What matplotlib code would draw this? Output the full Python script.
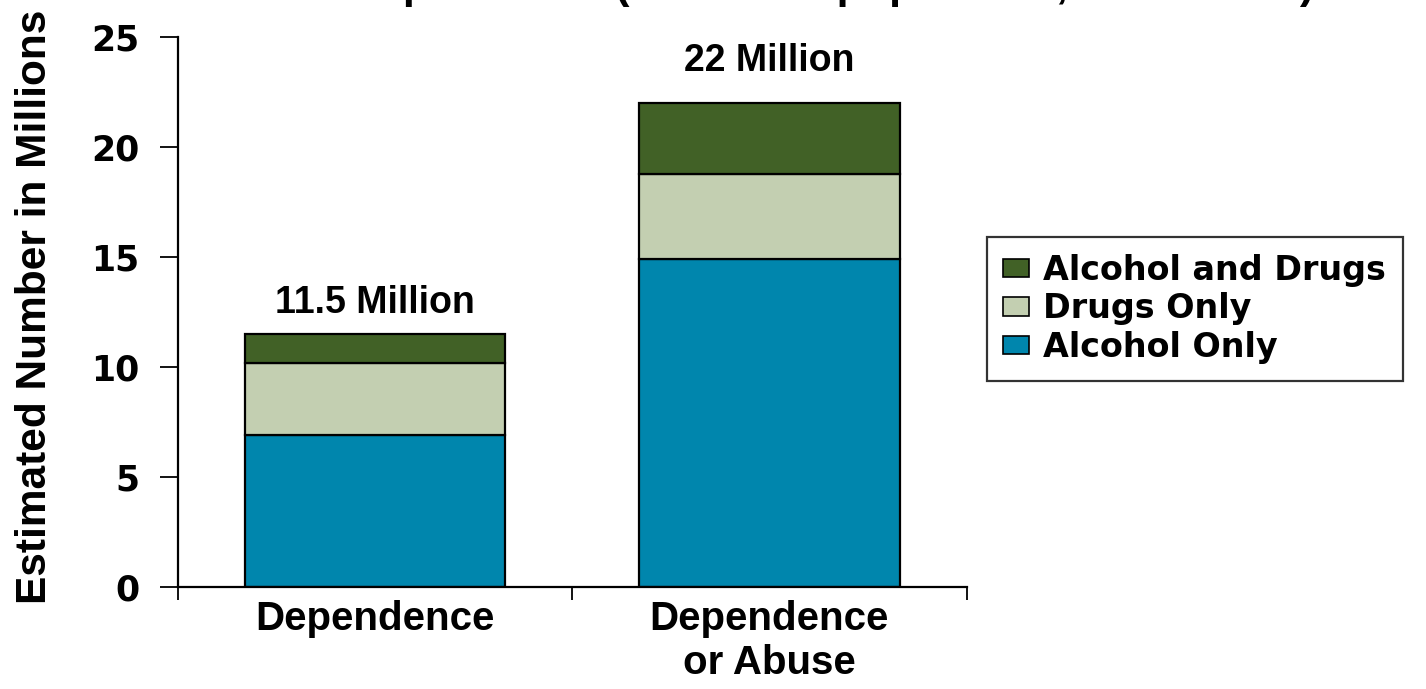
import numpy as np
import matplotlib.pyplot as plt

# estimated numbers (millions), past-year substance dependence / abuse
groups = ['Dependence', 'Dependence\nor Abuse']
alcohol_only = [6.9, 14.9]
drugs_only = [3.3, 3.9]
alcohol_drugs = [1.3, 3.2]
totals = [11.5, 22.0]
total_labels = ['11.5 Million', '22 Million']

c_alc = '#0086ad'
c_drug = '#c3cfb1'
c_both = '#416126'

fig = plt.figure(figsize=(14.26, 6.89), dpi=100)
ax = fig.add_axes([0.1248, 0.148, 0.553, 0.798])

ind = np.arange(len(groups))
width = 0.66
b1 = ax.bar(ind, alcohol_only, width, color=c_alc, edgecolor='black', linewidth=1.6)
b2 = ax.bar(ind, drugs_only, width, bottom=alcohol_only, color=c_drug,
            edgecolor='black', linewidth=1.6)
bottom2 = np.array(alcohol_only) + np.array(drugs_only)
b3 = ax.bar(ind, alcohol_drugs, width, bottom=bottom2, color=c_both,
            edgecolor='black', linewidth=1.6)

# total labels above each stack
for x, t, lab, off in zip(ind, totals, total_labels, [15, 23]):
    ax.annotate(lab, (x, t), xytext=(0, off), textcoords='offset points',
                ha='center', va='baseline', fontsize=27, fontweight='bold',
                family='Liberation Sans')

ax.set_xlim(-0.5, 1.5)
ax.set_ylim(0, 25)
ax.set_yticks([0, 5, 10, 15, 20, 25])
ax.set_yticklabels(['0', '5', '10', '15', '20', '25'], fontsize=25,
                   fontweight='bold', family='DejaVu Sans')
ax.tick_params(axis='y', length=13, width=1.3, pad=15, direction='out')

# category ticks sit between groups, labels under the bars
ax.set_xticks([-0.5, 0.5, 1.5])
ax.set_xticklabels([])
ax.set_xticks(ind, minor=True)
ax.set_xticklabels(groups, minor=True, fontsize=29, fontweight='bold',
                   family='Liberation Sans', linespacing=1.22)
ax.tick_params(axis='x', which='major', length=9, width=1.3, direction='out')
ax.tick_params(axis='x', which='minor', length=0, pad=9)

for s in ['top', 'right']:
    ax.spines[s].set_visible(False)
ax.spines['left'].set_linewidth(1.6)
ax.spines['bottom'].set_linewidth(1.6)

ax.set_ylabel('Estimated Number in Millions', fontsize=30.5, fontweight='bold',
              family='Liberation Sans')
ax.yaxis.set_label_coords(-0.156, 0.509)

leg = fig.legend([b3, b2, b1], ['Alcohol and Drugs', 'Drugs Only', 'Alcohol Only'],
                 loc='upper left', bbox_to_anchor=(0.692, 0.656), borderaxespad=0,
                 prop={'family': 'DejaVu Sans', 'weight': 'bold', 'size': 24},
                 frameon=True, fancybox=False, edgecolor='black',
                 handlelength=0.78, handleheight=0.48, handletextpad=0.42,
                 labelspacing=0.17, borderpad=0.5)
leg.get_frame().set_linewidth(1.6)
for h in leg.legend_handles:
    h.set_linewidth(1.2)

# title mostly falls outside the canvas
fig.text(119 / 1426, 1.003, 'Substance Dependence (Total U.S. population, 12 or older)',
         ha='left', va='baseline', fontsize=31, fontweight='bold',
         family='Liberation Sans')

fig.savefig('out.png', dpi=100)
